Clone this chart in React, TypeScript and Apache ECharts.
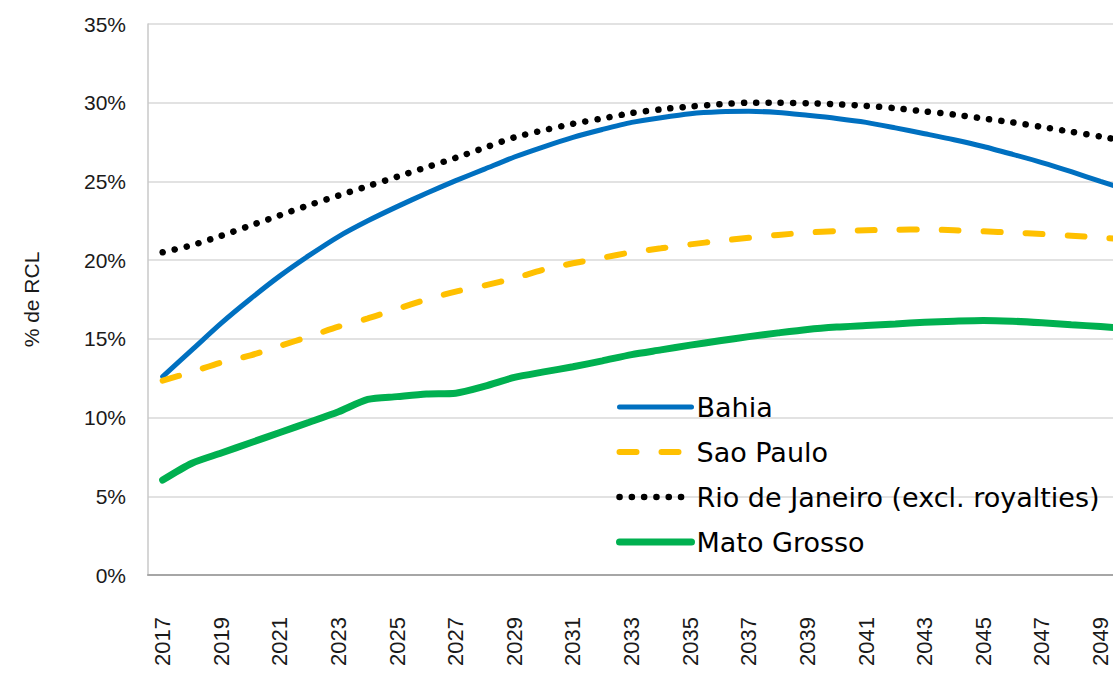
import React, { useEffect, useRef } from "react";
import * as echarts from "echarts";

const years: string[] = [];
for (let y = 2017; y <= 2050; y++) years.push(String(y));

const bahia = [12.6, 14.3, 16.0, 17.55, 19.0, 20.3, 21.5, 22.5, 23.4, 24.25, 25.05, 25.8, 26.55, 27.2, 27.8, 28.3, 28.75, 29.05, 29.3, 29.42, 29.45, 29.38, 29.2, 29.0, 28.75, 28.4, 28.03, 27.65, 27.22, 26.72, 26.2, 25.62, 25.0, 24.4];
const saoPaulo = [12.35, 12.9, 13.5, 13.95, 14.55, 15.15, 15.77, 16.3, 16.9, 17.5, 18.0, 18.4, 18.85, 19.4, 19.8, 20.15, 20.5, 20.75, 21.0, 21.22, 21.42, 21.6, 21.75, 21.85, 21.9, 21.93, 21.95, 21.9, 21.83, 21.75, 21.66, 21.55, 21.43, 21.3];
const rio = [20.5, 20.95, 21.55, 22.2, 22.85, 23.5, 24.1, 24.7, 25.3, 25.9, 26.5, 27.15, 27.8, 28.25, 28.66, 29.0, 29.34, 29.58, 29.76, 29.9, 30.0, 30.0, 29.97, 29.9, 29.8, 29.65, 29.45, 29.25, 29.0, 28.75, 28.46, 28.15, 27.85, 27.5];
const matoGrosso = [6.03, 7.1, 7.75, 8.4, 9.05, 9.7, 10.37, 11.15, 11.33, 11.5, 11.55, 12.0, 12.55, 12.9, 13.23, 13.6, 14.0, 14.3, 14.6, 14.88, 15.14, 15.38, 15.6, 15.75, 15.85, 15.95, 16.05, 16.12, 16.17, 16.12, 16.02, 15.9, 15.78, 15.65];

const seriesNames = ["Bahia", "Sao Paulo", "Rio de Janeiro (excl. royalties)", "Mato Grosso"];
const seriesColors = ["#0070C0", "#FFC000", "#000000", "#00B050"];
const seriesWidths = [5, 6, 6.5, 7];
const yAxisName = "% de RCL";

export default function App() {
  const ref = useRef<HTMLDivElement>(null);
  useEffect(() => {
    if (!ref.current) return;
    const chart = echarts.init(ref.current, null, { renderer: "svg" });
    const axisFont = "'Liberation Sans', Arial, sans-serif";
    chart.setOption({
      animation: false,
      backgroundColor: "#ffffff",
      grid: { left: 148, top: 24, bottom: 105, right: 5.5, containLabel: false },
      legend: {
        orient: "vertical",
        left: 616,
        top: 392,
        padding: 0,
        itemWidth: 72,
        itemHeight: 14,
        itemGap: 15,
        itemStyle: { opacity: 0 },
        data: seriesNames.map((n, i) => ({ name: n, lineStyle: { width: seriesWidths[i] } })),
        textStyle: { fontFamily: "'DejaVu Sans', sans-serif", fontSize: 27, color: "#000", lineHeight: 30 },
      },
      xAxis: {
        type: "category",
        data: years,
        boundaryGap: true,
        axisLine: { lineStyle: { color: "#a6a6a6", width: 2 } },
        axisTick: { show: false },
        axisLabel: {
          interval: 1,
          rotate: 90,
          margin: 42,
          fontFamily: axisFont,
          fontSize: 22,
          color: "#1a1a1a",
        },
      },
      yAxis: {
        type: "value",
        min: 0,
        max: 35,
        interval: 5,
        name: yAxisName,
        nameLocation: "middle",
        nameGap: 106,
        nameTextStyle: { fontFamily: axisFont, fontSize: 21, color: "#1a1a1a" },
        axisLine: { show: true, lineStyle: { color: "#c8c8c8", width: 1.5 } },
        axisTick: { show: false },
        splitLine: { lineStyle: { color: "#d9d9d9", width: 1.5 } },
        axisLabel: {
          formatter: "{value}%",
          margin: 22,
          fontFamily: axisFont,
          fontSize: 21,
          color: "#1a1a1a",
        },
      },
      series: [
        {
          name: seriesNames[0],
          type: "line",
          data: bahia,
          symbol: "none",
          smooth: 0.25,
          lineStyle: { color: seriesColors[0], width: seriesWidths[0], cap: "round" },
          itemStyle: { color: seriesColors[0] },
        },
        {
          name: seriesNames[1],
          type: "line",
          data: saoPaulo,
          symbol: "none",
          smooth: 0.25,
          lineStyle: { color: seriesColors[1], width: seriesWidths[1], type: [17, 25], cap: "round" },
          itemStyle: { color: seriesColors[1] },
        },
        {
          name: seriesNames[2],
          type: "line",
          data: rio,
          symbol: "none",
          smooth: 0.25,
          lineStyle: { color: seriesColors[2], width: seriesWidths[2], type: [0.1, 12.2], cap: "round" },
          itemStyle: { color: seriesColors[2] },
        },
        {
          name: seriesNames[3],
          type: "line",
          data: matoGrosso,
          symbol: "none",
          smooth: 0.25,
          lineStyle: { color: seriesColors[3], width: seriesWidths[3], cap: "round" },
          itemStyle: { color: seriesColors[3] },
        },
      ],
    });
    return () => chart.dispose();
  }, []);
  return (
    <div style={{ position: "fixed", left: 0, top: 0, width: 1113, height: 680, overflow: "hidden", background: "#fff" }}>
      <div ref={ref} style={{ width: 1150, height: 680 }} />
    </div>
  );
}
